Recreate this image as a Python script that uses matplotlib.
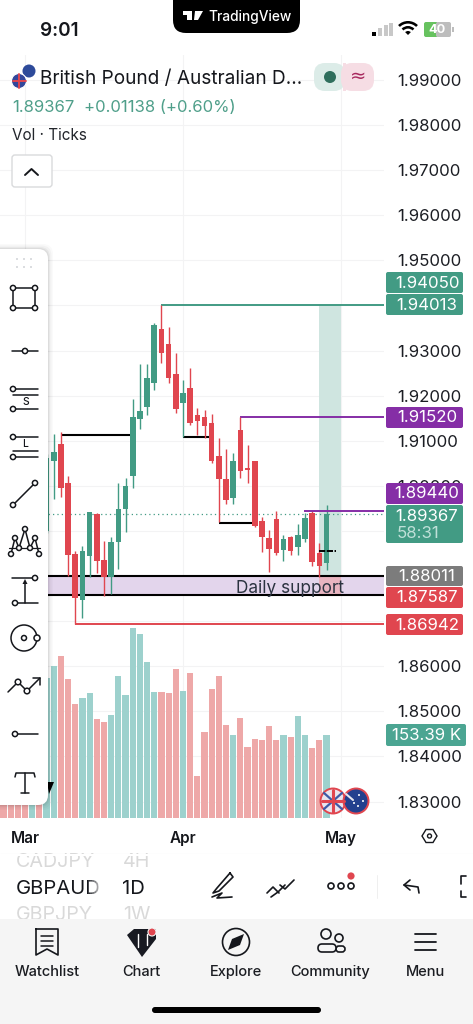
import matplotlib
matplotlib.use("Agg")
import matplotlib.pyplot as plt
from matplotlib.patches import Circle, FancyBboxPatch, Polygon, Rectangle, Wedge

plt.rcParams["font.family"] = ["Inter", "DejaVu Sans"]

# daily candles, first one is index 3 (index 0 = 1 March)
first_candle = 3
opens = [1.89008, 1.90560, 1.90937, 1.90072, 1.88490, 1.87478, 1.88446, 1.89385, 1.88357, 1.87973,
         1.88749, 1.89496, 1.90220, 1.91476, 1.91750, 1.92289, 1.93472, 1.93139, 1.92481, 1.91831,
         1.92171, 1.91580, 1.91528, 1.91388, 1.90663, 1.90146, 1.89725, 1.91240, 1.90397, 1.90552,
         1.89222, 1.88853, 1.89259, 1.88579, 1.88860, 1.88646, 1.88823, 1.89407, 1.88513, 1.88283]
highs = [1.90700, 1.91144, 1.91188, 1.90227, 1.88564, 1.88668, 1.89429, 1.89407, 1.88779, 1.88875,
         1.90057, 1.90168, 1.91920, 1.92696, 1.92711, 1.93605, 1.94013, 1.93531, 1.92940, 1.92348,
         1.92607, 1.91728, 1.91676, 1.91587, 1.91070, 1.90811, 1.90722, 1.91520, 1.90907, 1.90552,
         1.89303, 1.89022, 1.89451, 1.88912, 1.88889, 1.89148, 1.89392, 1.89440, 1.88742, 1.89569]
lows = [1.88950, 1.89702, 1.89762, 1.88003, 1.86942, 1.87079, 1.87973, 1.88062, 1.87559, 1.87603,
        1.88165, 1.88971, 1.89961, 1.91262, 1.91565, 1.92127, 1.92733, 1.92275, 1.91609, 1.91077,
        1.91351, 1.91136, 1.91055, 1.90500, 1.89192, 1.89606, 1.89592, 1.90183, 1.90057, 1.89096,
        1.88542, 1.88084, 1.88468, 1.88343, 1.88468, 1.88461, 1.88756, 1.88232, 1.87988, 1.88136]
closes = [1.90612, 1.90745, 1.89961, 1.88468, 1.87522, 1.88557, 1.89422, 1.88343, 1.87973, 1.88756,
          1.89496, 1.89998, 1.91521, 1.91661, 1.92385, 1.93561, 1.92955, 1.92385, 1.91705, 1.92053,
          1.91402, 1.91447, 1.91329, 1.90545, 1.90161, 1.89688, 1.90552, 1.90323, 1.90360, 1.89111,
          1.88860, 1.88601, 1.88520, 1.88823, 1.88564, 1.88912, 1.89281, 1.88306, 1.88217, 1.89367]

# volume in thousands, first one is index -3
first_volume = -3
volumes = [200, 200, 200, 200, 200, 200, 259, 280.3, 298.8, 256.9, 210.7, 222.4, 230.4, 182.3, 176.8,
           189.7, 263, 227.3, 351.7, 340, 288.9, 232.8, 233.5, 231, 276, 234, 267.3, 78.2, 159.5, 239,
           261.8, 171.2, 154, 184.2, 131.2, 146.6, 143.5, 169.4, 143.5, 153.4, 149, 189, 152.8, 130,
           144.8, 153.39]
volume_up = [0, 0, 0, 0, 1, 0, 1, 1, 0, 0, 0, 1, 1, 0, 0, 1, 1, 1, 1, 1, 1, 1, 0, 0, 0, 1, 0, 0, 0, 0,
             0, 0, 1, 0, 0, 0, 0, 0, 0, 1, 0, 1, 1, 0, 0, 1]

# 1.94, 1.89, 1.88 and 1.87 sit fully behind the price tags, so they get no label
price_ticks = [1.99, 1.98, 1.97, 1.96, 1.95, 1.94, 1.93, 1.92, 1.91, 1.90, 1.89, 1.88, 1.87, 1.86,
               1.85, 1.84, 1.83]
hidden_ticks = [1.94, 1.89, 1.88, 1.87]
month_pos = [0, 22, 44]
month_names = ["Mar", "Apr", "May"]

# drawn levels: price, start index, end index
black_levels = [(1.91129, 5, 15), (1.91084, 22, 26), (1.89185, 27, 32)]
target_price = 1.94013
stop_price = 1.87587
entry_price = 1.88011
high_level = 1.91520
mid_level = 1.89440
low_level = 1.86942
last_price = 1.89367

GREEN = "#429b84"
RED = "#e0464f"
PURPLE = "#852ea6"
VOL_GREEN = "#9dd1cd"
VOL_RED = "#eea8a8"
GRID = "#f3f3f4"
INK = "#15171c"
LABEL_SIZE = 12.1

fig = plt.figure(figsize=(4.73, 10.24), dpi=100, facecolor="white")
ax = fig.add_axes([0, 1 - 818 / 1024, 384 / 473, 763 / 1024])
ax.set_xlim(-3.482, 50)
ax.set_ylim(1.82636, 1.99554)

# volume pane, made first because twinx moves the price ticks
ax_vol = ax.twinx()
ax_vol.patch.set_visible(False)
for s in ax_vol.spines.values():
    s.set_visible(False)
ax_vol.set_ylim(0, 763 * 1.848)
ax_vol.set_yticks([])
vol_idx = [first_volume + i for i in range(len(volumes))]
ax_vol.bar(vol_idx, volumes, width=0.86, lw=0,
           color=[VOL_GREEN if u else VOL_RED for u in volume_up])

for s in ax.spines.values():
    s.set_visible(False)
ax.set_axisbelow(True)
ax.grid(color=GRID, lw=0.8)
ax.yaxis.tick_right()
ax.set_yticks(price_ticks)
ax.set_yticklabels(["" if p in hidden_ticks else f"{p:.5f}" for p in price_ticks],
                   fontsize=LABEL_SIZE, color="#1c1e24")
ax.set_xticks(month_pos)
ax.set_xticklabels(month_names, fontsize=11, fontweight="semibold", color=INK)
ax.tick_params(length=0)
ax.tick_params(axis="y", pad=9.4)
ax.tick_params(axis="x", pad=9.5)

# support zone and the position box
ax.axhspan(stop_price, entry_price, color="#e3d5ec", lw=0, zorder=1)
ax.add_patch(Rectangle((41, entry_price), 3.06, target_price - entry_price, color="#cfe5e0", lw=0, zorder=1.2))
ax.add_patch(Rectangle((41, stop_price), 3.06, entry_price - stop_price, color="#e8b4c0", lw=0, zorder=1.2))
ax.axhline(entry_price, color="black", lw=1.5, zorder=3)
ax.axhline(stop_price, color="black", lw=1.5, zorder=3)

# candles
idx = [first_candle + i for i in range(len(opens))]
colors = [GREEN if c >= o else RED for o, c in zip(opens, closes)]
ax.vlines(idx, lows, highs, colors=colors, lw=1.0, zorder=4)
bottoms = [min(o, c) for o, c in zip(opens, closes)]
sizes = [abs(c - o) for o, c in zip(opens, closes)]
ax.bar(idx, sizes, bottom=bottoms, width=0.78, color=colors, lw=0, zorder=5)

ax.hlines(last_price, -3.482, 50, colors=GREEN, lw=0.9, linestyles=(0, (1, 2.5)), zorder=3)

for price, x0, x1 in black_levels:
    ax.hlines(price, x0, x1, colors="black", lw=1.5, zorder=3)
ax.hlines(1.88556, 40.9, 43.3, colors="black", lw=1.4, linestyles=(0, (3.2, 0.8)), zorder=6)
ax.hlines(target_price, 19, 50, colors=GREEN, lw=1.4, zorder=3)
ax.hlines(high_level, 30, 50, colors=PURPLE, lw=1.4, zorder=3)
ax.hlines(mid_level, 38.8, 50, colors=PURPLE, lw=1.4, zorder=6)
ax.hlines(low_level, 7, 50, colors=RED, lw=1.4, zorder=3)
ax.text(36.9, 1.8772, "Daily support", fontsize=12.4, color="#2b3340", ha="center", va="center", zorder=7)

# app chrome in pixel coordinates
ui = fig.add_axes([0, 0, 1, 1])
ui.set_xlim(0, 473)
ui.set_ylim(1024, 0)
ui.axis("off")


def put(x, y, s, size, color=INK, ha="left", weight="normal", alpha=1.0, family=None):
    ui.text(x, y + 1.5, s, fontsize=size, color=color, ha=ha, va="center", fontweight=weight, alpha=alpha,
            family=family or ["Inter", "DejaVu Sans"], zorder=20)


def box(x0, y0, x1, y1, color, r=2.0, edge="none", lw=0, z=10):
    ui.add_patch(FancyBboxPatch((x0 + r, y0 + r), x1 - x0 - 2 * r, y1 - y0 - 2 * r,
                                boxstyle=f"round,pad={r}", fc=color, ec=edge, lw=lw, zorder=z))


def line(points, lw=1.1, color=INK, z=15):
    ui.plot([p[0] for p in points], [p[1] for p in points], color=color, lw=lw, zorder=z,
            solid_capstyle="round", solid_joinstyle="round")


def ring(x, y, r=2.6, lw=1.1, color=INK, fc="white", z=16):
    ui.add_patch(Circle((x, y), r, fc=fc, ec=color, lw=lw, zorder=z))


# price labels
def tag(y0, y1, color, text, sub=None):
    box(386, y0, 463, y1, color)
    if sub:
        put(427, y0 + 10, text, LABEL_SIZE, "white", "center")
        put(397, y0 + 27, sub, LABEL_SIZE, "#bfe0d8")
    else:
        put(427, (y0 + y1) / 2 - 1, text, LABEL_SIZE, "white", "center")


tag(272, 293, GREEN, "1.94050")
tag(294, 315, GREEN, "1.94013")
tag(407, 428, PURPLE, "1.91520")
tag(483, 504, PURPLE, "1.89440")
tag(505, 543, GREEN, "1.89367", "58:31")
tag(566, 586, "#7c7c7c", "1.88011")
tag(587, 608, RED, "1.87587")
tag(614, 635, RED, "1.86942")
box(386, 724, 466, 746, "#4ba592")
put(427, 734, "153.39 K", LABEL_SIZE, "white", "center")

# status bar
ui.add_patch(Polygon([(173, 0), (300, 0), (300, 18), (284, 33), (189, 33), (173, 18)], fc="black", ec="none", zorder=10))
box(173, -12, 300, 33, "black", r=13, z=10)
ui.add_patch(Polygon([(183, 11), (192, 11), (192, 20), (187, 20), (187, 15), (183, 15)], fc="white", zorder=12))
ui.add_patch(Polygon([(195, 11), (203, 11), (198, 20), (194, 20)], fc="white", zorder=12))
put(208, 15.5, "TradingView", 9.9, "white", weight="medium")
put(40, 29, "9:01", 13.6, weight="semibold")
for i, (x, h, c) in enumerate([(372, 4, "black"), (378, 8, "#c8c8c8"), (384, 11, "#c8c8c8"), (389, 13, "#c8c8c8")]):
    ui.add_patch(Rectangle((x, 36 - h), 3.6, h, fc=c, zorder=12))
ui.add_patch(Wedge((408, 35), 14, 225, 315, width=2.6, fc="black", zorder=12))
ui.add_patch(Wedge((408, 35), 9, 225, 315, width=2.6, fc="black", zorder=12))
ui.add_patch(Wedge((408, 35), 4, 225, 315, fc="black", zorder=12))
box(424, 22, 438, 37, "#67c25f", r=2)
box(436, 22, 451, 37, "#bdbdbd", r=2)
ui.add_patch(Rectangle((452, 27), 1.5, 5, fc="#bdbdbd", zorder=12))
put(437, 28.5, "40", 9.2, "white", "center", weight="bold")

# header
ring(29, 71, 6.5, lw=0, color="none", fc="#2d4a9a")
ring(19, 81, 7.5, lw=0.8, color="white", fc="#33479b")
line([(13, 81), (26, 81)], lw=1.4, color="#e0464f", z=17)
line([(19, 74), (19, 88)], lw=1.4, color="#e0464f", z=17)
put(40, 77.5, "British Pound / Australian D...", 13.7)
put(12, 106, "1.89367", 12, "#4f9f8a")
put(84, 106, "+0.01138 (+0.60%)", 12, "#4f9f8a")
put(12, 134.5, "Vol · Ticks", 11, "#22252b")
box(12, 155, 52, 187, "white", r=3, edge="#d9dadc", lw=1)
line([(25, 175), (31.5, 169), (38, 175)], lw=1.4)
box(314, 63, 345, 91, "#dcece8", r=11)
box(341, 63, 374, 91, "#f6dde4", r=11)
ui.add_patch(Rectangle((343, 63), 3, 28, fc="#f6dde4", zorder=11))
ring(330, 77, 6, lw=0, color="none", fc="#2f6f5d")
put(358, 75, "≈", 14, "#a82a5e", "center", family=["DejaVu Sans"])

# tool panel
for pad, a in [(5, 0.02), (3.5, 0.03), (2, 0.04), (1, 0.05)]:
    box(-10, 249 - pad, 48 + pad, 805 + pad, "black", r=10, z=7)
    ui.patches[-1].set_alpha(a)
ui.add_patch(Polygon([(47, 782), (54, 782), (49, 794)], fc="black", zorder=7))
box(-10, 249, 48, 805, "white", r=10, z=8)
for x in (17, 24, 31):
    for y in (259, 267):
        ui.add_patch(Circle((x, y), 0.8, fc="#b8bcc2", zorder=15))

line([(13, 288), (35, 288), (35, 308), (13, 308), (13, 288)])
for p in [(13, 288), (35, 288), (13, 308), (35, 308)]:
    ring(*p)
line([(12, 351), (38, 351)])
ring(25, 351)
for y0, y1, y2, ch, cy in [(389, 395, 409, "S", 400.5), (437, 451, 457, "L", 442.5)]:
    line([(13, y0), (38, y0)])
    line([(13, y1), (38, y1)])
    line([(13, y2), (38, y2)])
    ring(13, y0)
    ring(13, y2)
    put(25.5, cy, ch, 7.4, ha="center", weight="medium")
line([(13, 505), (35, 483)])
ring(13, 505)
ring(35, 483)
xabcd = [(11, 554), (15, 538), (19, 548), (25, 529), (30, 548), (35, 538), (39, 554)]
line(xabcd)
line([(9, 548), (40, 548)], lw=0.9)
for p in xabcd:
    ring(*p, r=2.5)
line([(12, 578), (33, 578)])
line([(17, 603), (38, 603)])
line([(25, 603), (25, 583)])
ui.add_patch(Polygon([(22.5, 584), (27.5, 584), (25, 579)], fc=INK, zorder=15))
ring(35, 578)
ring(15, 603)
ring(24, 638, 13, z=15)
ring(24, 638, 2.5)
ring(37, 638, 3)
line([(8, 692), (18, 682), (27, 691), (40, 678)])
line([(33, 678), (40, 678), (40, 685)])
ring(18, 682, 2.8)
ring(27, 691, 2.8)
line([(17, 734), (38, 734)])
ring(15, 734)
line([(15, 777), (16, 773), (34, 773), (35, 777)])
line([(25, 773), (25, 793)])
line([(21, 793), (29, 793)])

# pair badges on the chart
for cx, fc in [(333, "#e9e5ee"), (356, "#23408e")]:
    ring(cx, 801, 12.5, lw=1.4, color=RED, fc=fc, z=12)
line([(324, 793), (342, 809)], lw=1.6, color="#3c5aa6", z=13)
line([(342, 793), (324, 809)], lw=1.6, color="#3c5aa6", z=13)
line([(322, 801), (344, 801)], lw=2.2, color=RED, z=14)
line([(333, 790), (333, 812)], lw=2.2, color=RED, z=14)
for x, y in [(359, 795), (363, 801), (358, 806), (354, 803)]:
    ui.add_patch(Circle((x, y), 1, fc="white", zorder=14))
line([(346, 794), (353, 800)], lw=1.5, color="#e6e6ee", z=14)

# settings hexagon
ui.add_patch(Polygon([(422, 836), (426, 829.5), (433, 829.5), (437, 836), (433, 842.5), (426, 842.5)],
                     fc="white", ec=INK, lw=1.0, zorder=15))
ring(429.5, 836, 2, lw=1)

# symbol picker row
ui.add_patch(Rectangle((0, 853), 473, 67, fc="white", zorder=9))
line([(0, 853.5), (473, 853.5)], lw=0.8, color="#ececec", z=9.5)
put(16, 860.5, "CADJPY", 14.2, "#d9d9d9")
put(123, 860.5, "4H", 14.2, "#d9d9d9")
put(16, 887.5, "GBPAUD", 14.6)
put(122, 887.5, "1D", 14.6)
put(16, 914, "GBPJPY", 14.2, "#d9d9d9")
put(123, 914, "1W", 14.2, "#d9d9d9")
for i in range(8):
    ui.add_patch(Rectangle((88 + 2 * i, 875), 2, 24, fc="white", alpha=0.12 * (i + 1), zorder=21))
ui.add_patch(Rectangle((0, 853.5), 473, 2, fc="white", zorder=21))

# pen, lines, more, undo, brackets
line([(230, 873), (217, 888), (213, 893), (219, 891), (233, 877), (230, 873)], lw=1.2)
line([(212, 897), (222, 893), (217, 898), (232, 897)], lw=1.2)
line([(267, 893), (273, 887), (279, 893)], lw=1.2)
line([(271, 897), (278, 892), (285, 885)], lw=1.2)
line([(280, 885), (285, 889), (294, 880)], lw=1.2)
for x in (331, 341, 351):
    ring(x, 886, 3, lw=1.2)
ui.add_patch(Circle((351, 876), 3.6, fc=RED, zorder=17))
line([(377, 875), (377, 898)], lw=0.7, color="#efefef")
line([(419, 893), (418, 887), (404, 885)], lw=1.2)
line([(410, 880), (404, 885), (410, 890)], lw=1.2)
line([(466, 876), (461, 876), (461, 884)], lw=1.2)
line([(461, 891), (461, 897), (466, 897)], lw=1.2)

# bottom nav
ui.add_patch(Rectangle((0, 919), 473, 105, fc="#f5f5f5", zorder=21))
nav_z = 22
line([(36, 929), (58, 929), (58, 955), (47, 949), (36, 955), (36, 929)], lw=1.2, z=nav_z)
for y in (936, 941, 946):
    line([(41, y), (53, y)], lw=1.1, z=nav_z)
ui.add_patch(Polygon([(127, 935), (134, 929), (156, 929), (156, 939), (142, 957)], fc="#181a22", zorder=nav_z))
line([(138, 934), (138, 947)], lw=1, color="white", z=nav_z + 1)
line([(147, 934), (147, 945)], lw=1, color="white", z=nav_z + 1)
ui.add_patch(Circle((152, 932), 4, fc=RED, ec="#f5f5f5", lw=0.8, zorder=nav_z + 2))
ring(236, 942, 13.5, lw=1.2, fc="#f5f5f5", z=nav_z)
ui.add_patch(Polygon([(244, 934), (240, 945), (228, 950), (232, 939)], fc="#15171c", zorder=nav_z + 1))
box(318, 944, 336, 952, "#f5f5f5", r=4, edge=INK, lw=1.2, z=nav_z + 1)
box(336, 946, 345, 952, "#f5f5f5", r=3, edge=INK, lw=1.2, z=nav_z)
ring(326, 934, 5, lw=1.2, fc="#f5f5f5", z=nav_z)
ring(339, 938, 4, lw=1.2, fc="#f5f5f5", z=nav_z)
for y in (934, 942, 949.5):
    line([(415, y), (436, y)], lw=1.3, z=nav_z)
for x, s in [(47, "Watchlist"), (141.5, "Chart"), (236, "Explore"), (330.5, "Community"), (425, "Menu")]:
    ui.text(x, 972, s, fontsize=10.5, color="#1b1d22", ha="center", va="center", fontweight="medium", zorder=nav_z)
box(152, 1007, 321, 1013, "black", r=3, z=nav_z)

fig.savefig("out.png", dpi=100)
